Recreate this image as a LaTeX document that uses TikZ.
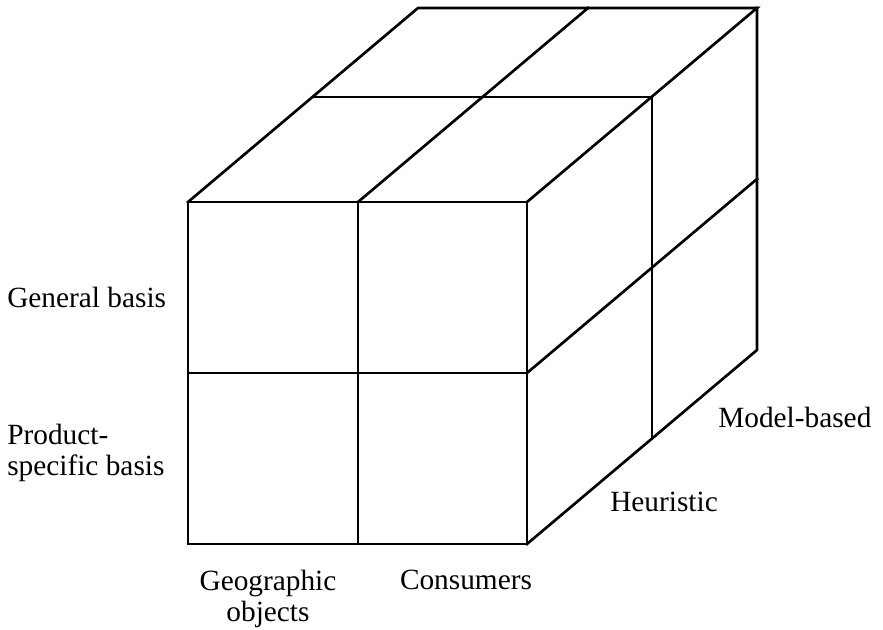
\documentclass[tikz,border=0pt]{standalone}
\usepackage{fontspec}
\setmainfont{Liberation Serif}
\usepackage{tikz}

\begin{document}
\begin{tikzpicture}[x=0.75pt,y=0.75pt,yscale=-1,xscale=1,
  cubeline/.style={line width=2pt, line join=miter, line cap=rect},
  lbl/.style={inner sep=0pt, font=\fontsize{22}{23}\selectfont}]
\useasboundingbox (0,0) rectangle (883,630);

%Corners of the front face
\coordinate (ftl) at (188,202);
\coordinate (ftm) at (358,202);
\coordinate (ftr) at (527,202);
\coordinate (fml) at (188,373);
\coordinate (fmr) at (527,373);
\coordinate (fbl) at (188,544);
\coordinate (fbm) at (358,544);
\coordinate (fbr) at (527,544);
%Corners half way back
\coordinate (mtl) at (313,97);
\coordinate (mtr) at (652,97);
\coordinate (mbr) at (652,439);
%Corners of the back
\coordinate (btl) at (418,8);
\coordinate (btm) at (588,8);
\coordinate (btr) at (757,8);
\coordinate (bmr) at (757,179);
\coordinate (bbr) at (757,350);

%Shape: Front face
\draw [cubeline] (ftl) -- (ftr) -- (fbr) -- (fbl) -- cycle ;
\draw [cubeline] (ftm) -- (fbm) ;
\draw [cubeline] (fml) -- (fmr) ;
%Shape: Top face
\draw [cubeline] (ftl) -- (btl) -- (btr) -- (ftr) ;
\draw [cubeline] (mtl) -- (mtr) ;
\draw [cubeline] (ftm) -- (btm) ;
%Shape: Side face
\draw [cubeline] (btr) -- (bbr) -- (fbr) ;
\draw [cubeline] (mtr) -- (mbr) ;
\draw [cubeline] (fmr) -- (bmr) ;

% Text Node
\draw (7,308) node (general) [anchor=base west] [lbl] {General basis};
% Text Node
\draw (7,453) node (product) [anchor=west] [lbl, align=left] {Product-\\specific basis};
% Text Node
\draw (268,570) node (geographic) [anchor=north] [lbl, align=center] {Geographic\\objects};
% Text Node
\draw (466,590) node (consumers) [anchor=base] [lbl] {Consumers};
% Text Node
\draw (610,512) node (heuristic) [anchor=base west] [lbl] {Heuristic};
% Text Node
\draw (718,428) node (model) [anchor=base west] [lbl] {Model-based};

\end{tikzpicture}
\end{document}
